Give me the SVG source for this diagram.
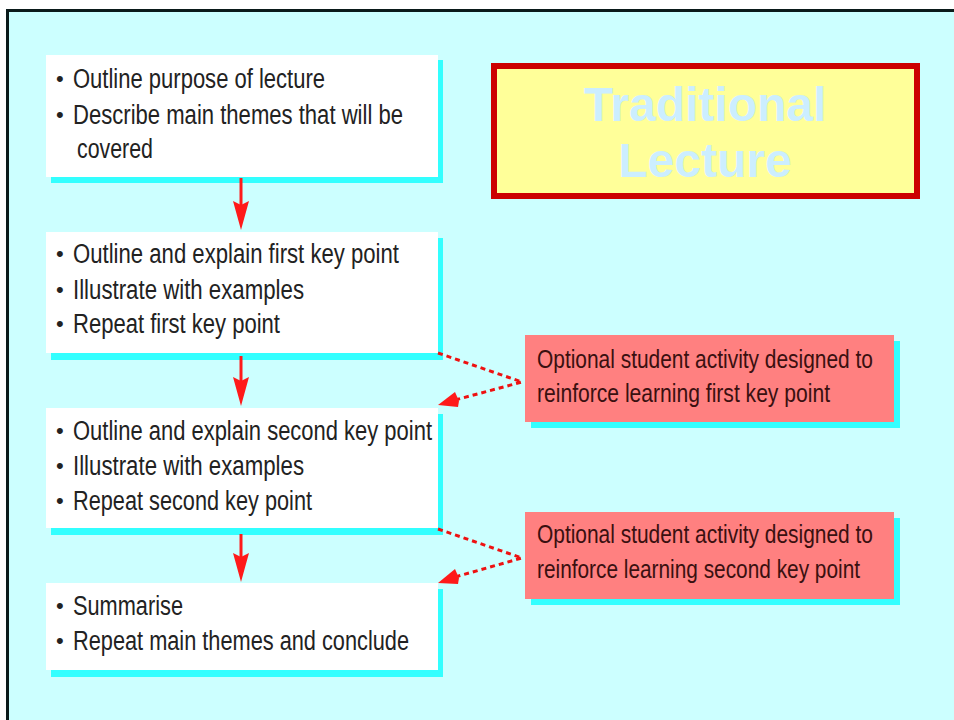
<svg xmlns="http://www.w3.org/2000/svg" width="954" height="720" viewBox="0 0 954 720">
<defs>
<style>
.t{font-family:"Liberation Sans",Arial,sans-serif;font-size:27px;fill:#222;}
.p{font-family:"Liberation Sans",Arial,sans-serif;font-size:25px;fill:#3a1010;}
.b{font-family:"Liberation Sans",Arial,sans-serif;font-size:22px;fill:#222;}
.box{fill:#ffffff;}
.sh{fill:#33ffff;}
.pk{fill:#ff8080;}
.arr{stroke:#ff1a1a;stroke-width:3;fill:none;}
.dot{stroke:#ee1111;stroke-width:3;fill:none;stroke-dasharray:5 4;}
.head{fill:#ff1a1a;}
.title{font-family:"Liberation Sans",Arial,sans-serif;font-size:48px;font-weight:bold;fill:#cceeff;text-anchor:middle;}
</style>
</defs>
<rect x="0" y="0" width="954" height="720" fill="#ffffff"/>
<rect x="7" y="11" width="960" height="720" fill="#ccffff"/>
<line x1="7" y1="10.5" x2="954" y2="10.5" stroke="#0a1a1a" stroke-width="3"/>
<line x1="7.5" y1="9" x2="7.5" y2="720" stroke="#0a1a1a" stroke-width="3"/>

<g id="title">
<rect x="494" y="66" width="423" height="130" fill="#ffff99" stroke="#cc0000" stroke-width="6"/>
<text class="title" x="705" y="121">Traditional</text>
<text class="title" x="705" y="177">Lecture</text>
</g>

<g id="box1">
<rect class="sh" x="51" y="60" width="392" height="123"/>
<rect class="box" x="46" y="55" width="392" height="122"/>
<text class="b" x="56" y="86">•</text>
<text class="t" x="73" y="88" textLength="252" lengthAdjust="spacingAndGlyphs">Outline purpose of lecture</text>
<text class="b" x="56" y="122">•</text>
<text class="t" x="73" y="124" textLength="330" lengthAdjust="spacingAndGlyphs">Describe main themes that will be</text>
<text class="t" x="77" y="158" textLength="76" lengthAdjust="spacingAndGlyphs">covered</text>
</g>

<g id="box2">
<rect class="sh" x="51" y="238" width="392" height="122"/>
<rect class="box" x="46" y="232" width="392" height="121"/>
<text class="b" x="56" y="261">•</text>
<text class="t" x="73" y="263" textLength="326" lengthAdjust="spacingAndGlyphs">Outline and explain first key point</text>
<text class="b" x="56" y="297">•</text>
<text class="t" x="73" y="299" textLength="231" lengthAdjust="spacingAndGlyphs">Illustrate with examples</text>
<text class="b" x="56" y="331">•</text>
<text class="t" x="73" y="333" textLength="207" lengthAdjust="spacingAndGlyphs">Repeat first key point</text>
</g>

<g id="box3">
<rect class="sh" x="51" y="414" width="392" height="121"/>
<rect class="box" x="46" y="408" width="392" height="120"/>
<text class="b" x="56" y="438">•</text>
<text class="t" x="73" y="440" textLength="359" lengthAdjust="spacingAndGlyphs">Outline and explain second key point</text>
<text class="b" x="56" y="473">•</text>
<text class="t" x="73" y="475" textLength="231" lengthAdjust="spacingAndGlyphs">Illustrate with examples</text>
<text class="b" x="56" y="508">•</text>
<text class="t" x="73" y="510" textLength="239" lengthAdjust="spacingAndGlyphs">Repeat second key point</text>
</g>

<g id="box4">
<rect class="sh" x="51" y="589" width="392" height="88"/>
<rect class="box" x="46" y="583" width="392" height="87"/>
<text class="b" x="56" y="613">•</text>
<text class="t" x="73" y="615" textLength="110" lengthAdjust="spacingAndGlyphs">Summarise</text>
<text class="b" x="56" y="648">•</text>
<text class="t" x="73" y="650" textLength="336" lengthAdjust="spacingAndGlyphs">Repeat main themes and conclude</text>
</g>

<g id="activity1">
<rect class="sh" x="531" y="341" width="369" height="87"/>
<rect class="pk" x="525" y="335" width="369" height="87"/>
<text class="p" x="537" y="368" textLength="336" lengthAdjust="spacingAndGlyphs">Optional student activity designed to</text>
<text class="p" x="537" y="402" textLength="293" lengthAdjust="spacingAndGlyphs">reinforce learning first key point</text>
</g>

<g id="activity2">
<rect class="sh" x="531" y="518" width="369" height="87"/>
<rect class="pk" x="525" y="512" width="369" height="87"/>
<text class="p" x="537" y="543" textLength="336" lengthAdjust="spacingAndGlyphs">Optional student activity designed to</text>
<text class="p" x="537" y="578" textLength="323" lengthAdjust="spacingAndGlyphs">reinforce learning second key point</text>
</g>

<g id="connectors">
<line class="arr" x1="241" y1="178" x2="241" y2="206"/>
<polygon class="head" points="233,201 241,205 249,201 241,230"/>
<line class="arr" x1="241" y1="356" x2="241" y2="382"/>
<polygon class="head" points="233,377 241,381 249,377 241,406"/>
<line class="arr" x1="241" y1="534" x2="241" y2="558"/>
<polygon class="head" points="233,553 241,557 249,553 241,582"/>

<path class="dot" d="M438,353 L522,382 L455,400"/>
<polygon class="head" points="438,405 455,392 459,401 458,407"/>
<path class="dot" d="M438,529 L522,558 L455,577"/>
<polygon class="head" points="438,583 455,569 459,578 458,584"/>
</g>
</svg>
